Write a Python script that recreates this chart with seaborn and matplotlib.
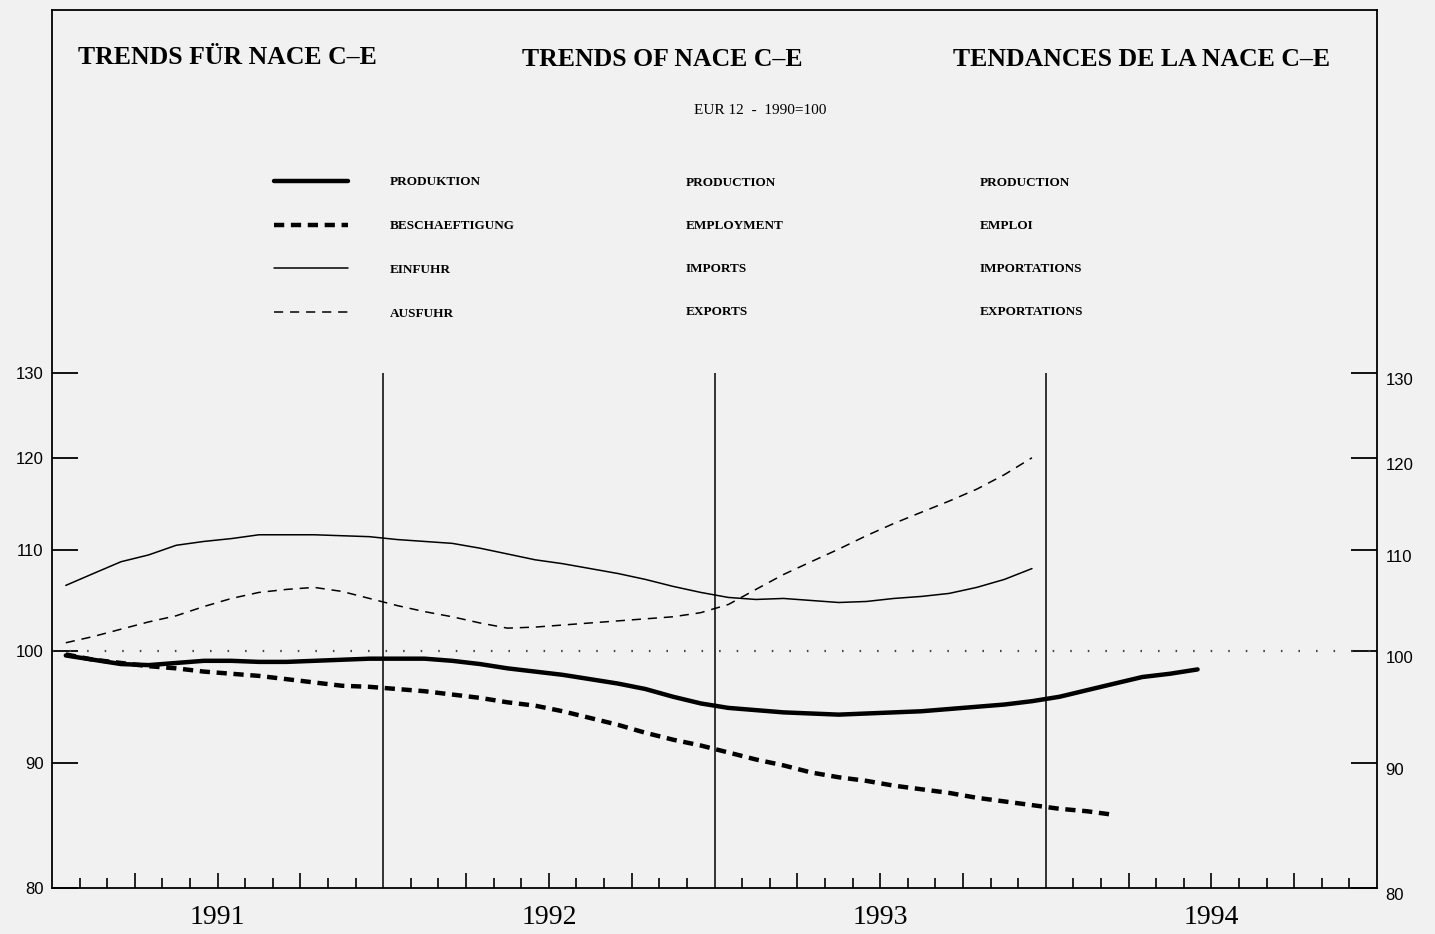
import numpy as np
import pandas as pd
import matplotlib
matplotlib.use("Agg")
import matplotlib.pyplot as plt
import matplotlib.ticker as mticker
import seaborn as sns

# EUR 12, 1990 = 100, monthly values (Jan 1991 onwards)
produktion = [99.6, 99.2, 98.8, 98.7, 98.9, 99.1, 99.1, 99.0, 99.0, 99.1, 99.2, 99.3,
              99.3, 99.3, 99.1, 98.8, 98.4, 98.1, 97.8, 97.4, 97.0, 96.5, 95.8, 95.2,
              94.8, 94.6, 94.4, 94.3, 94.2, 94.3, 94.4, 94.5, 94.7, 94.9, 95.1, 95.4,
              95.8, 96.4, 97.0, 97.6, 97.9, 98.3]
beschaeftigung = [99.7, 99.2, 98.9, 98.6, 98.4, 98.1, 97.9, 97.7, 97.4, 97.1, 96.8, 96.7,
                  96.5, 96.3, 96.0, 95.7, 95.3, 95.0, 94.5, 93.9, 93.3, 92.6, 92.0, 91.5,
                  90.9, 90.3, 89.8, 89.2, 88.8, 88.5, 88.1, 87.8, 87.5, 87.1, 86.8, 86.5,
                  86.2, 86.0, 85.7]
einfuhr = [106.4, 107.6, 108.8, 109.5, 110.5, 110.9, 111.2, 111.6, 111.6, 111.6, 111.5, 111.4,
           111.1, 110.9, 110.7, 110.2, 109.6, 109.0, 108.6, 108.1, 107.6, 107.0, 106.3, 105.7,
           105.2, 105.0, 105.1, 104.9, 104.7, 104.8, 105.1, 105.3, 105.6, 106.2, 107.0, 108.1]
ausfuhr = [100.8, 101.4, 102.1, 102.8, 103.4, 104.3, 105.1, 105.7, 106.0, 106.2, 105.8, 105.1,
           104.4, 103.8, 103.3, 102.7, 102.2, 102.3, 102.5, 102.7, 102.9, 103.1, 103.3, 103.7,
           104.5, 106.0, 107.5, 108.8, 110.1, 111.5, 112.8, 114.0, 115.2, 116.5, 118.1, 120.0]

years = [1991, 1992, 1993, 1994]
yticks = [80, 90, 100, 110, 120, 130]
labels_de = ["PRODUKTION", "BESCHAEFTIGUNG", "EINFUHR", "AUSFUHR"]
labels_en = ["PRODUCTION", "EMPLOYMENT", "IMPORTS", "EXPORTS"]
labels_fr = ["PRODUCTION", "EMPLOI", "IMPORTATIONS", "EXPORTATIONS"]

W, H = 1435, 934
bg = "#f1f1f1"

sns.set_theme(style="ticks")
plt.rcParams["font.family"] = ["Liberation Serif", "DejaVu Serif"]
plt.rcParams["text.color"] = "black"
plt.rcParams["xtick.color"] = "black"
plt.rcParams["ytick.color"] = "black"
plt.rcParams["xtick.labelcolor"] = "black"
plt.rcParams["ytick.labelcolor"] = "black"

fig = plt.figure(figsize=(W / 100, H / 100), dpi=100, facecolor=bg)
ax = fig.add_axes([52 / W, 1 - 888 / H, (1377 - 52) / W, (888 - 10) / H])
ax.set_facecolor(bg)

styles = [
    (produktion, dict(lw=3.2, ls="-")),
    (beschaeftigung, dict(lw=3.2, ls=(0, (2.3, 1.5)))),
    (einfuhr, dict(lw=1.1, ls="-")),
    (ausfuhr, dict(lw=1.1, ls=(0, (6, 4.5)))),
]
for (vals, kw), lab in zip(styles, labels_de):
    df = pd.DataFrame({"monat": np.arange(len(vals)) + 0.5, "wert": vals})
    sns.lineplot(data=df, x="monat", y="wert", ax=ax, color="black", label=lab, **kw)

# base line 1990 = 100 and year separators
ax.axhline(100, color="#444444", lw=1.6, ls=(0, (0.7, 7.2)))
ax.vlines([12 * i for i in range(1, len(years))], yticks[0], yticks[-1], color="black", lw=1.1)

ax.set_yscale("log")
ax.set_ylim(80, 183)
ax.set_xlim(0, 12 * len(years))
ax.set_xlabel("")
ax.set_ylabel("")

ax.yaxis.set_major_locator(mticker.FixedLocator(yticks))
ax.yaxis.set_major_formatter(mticker.FixedFormatter([str(v) for v in yticks]))
ax.yaxis.set_minor_locator(mticker.NullLocator())
ax.tick_params(axis="y", which="major", direction="in", length=19, width=1.3, color="black",
               left=True, right=True, labelleft=True, labelright=True, labelsize=12, pad=6,
               labelfontfamily="Liberation Sans")
for t in ax.yaxis.get_major_ticks():
    t.label2.set_verticalalignment("top")

months = np.arange(1, 12 * len(years))
quarters = [m for m in months if m % 3 == 0 and m % 12 != 0]
others = [m for m in months if m % 3 != 0]
ax.xaxis.set_major_locator(mticker.FixedLocator(quarters))
ax.xaxis.set_minor_locator(mticker.FixedLocator(others))
ax.xaxis.set_major_formatter(mticker.FuncFormatter(
    lambda x, pos: str(years[int(x // 12)]) if int(x) % 12 == 6 else ""))
ax.tick_params(axis="x", which="major", direction="in", length=11, width=1.2, color="black",
               labelsize=20, pad=12)
ax.tick_params(axis="x", which="minor", direction="in", length=7, width=1.2, color="black")

for sp in ax.spines.values():
    sp.set_color("black")
    sp.set_linewidth(1.3)

# legend: German column with the line keys, English and French columns as text
ax.legend(handles=ax.lines[:4], labels=labels_de, loc="upper left",
          bbox_to_anchor=(274 / W, 1 - 176 / H), bbox_transform=fig.transFigure,
          frameon=False, labelcolor="black",
          prop={"family": "Liberation Serif", "weight": "bold", "size": 9.5},
          handlelength=5.6, handletextpad=3.2, labelspacing=2.4, borderpad=0, borderaxespad=0)
row_y = [183, 226, 269, 312]
for y, en, fr in zip(row_y, labels_en, labels_fr):
    fig.text(686 / W, 1 - y / H, en, fontsize=9.5, fontweight="bold", va="center")
    fig.text(980 / W, 1 - y / H, fr, fontsize=9.5, fontweight="bold", va="center")

fig.text(78 / W, 1 - 58 / H, "TRENDS FÜR NACE C–E", fontsize=18.5, fontweight="bold", va="center")
fig.text(522 / W, 1 - 60 / H, "TRENDS OF NACE C–E", fontsize=18.5, fontweight="bold", va="center")
fig.text(953 / W, 1 - 60 / H, "TENDANCES DE LA NACE C–E", fontsize=18.5, fontweight="bold", va="center")
fig.text(760 / W, 1 - 110 / H, "EUR 12  -  1990=100", fontsize=11, ha="center", va="center")

fig.savefig("out.png", dpi=100, facecolor=bg)
